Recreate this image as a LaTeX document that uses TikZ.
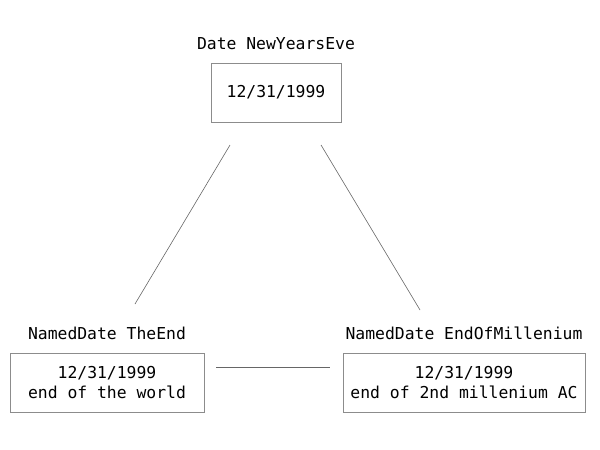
\documentclass[tikz,border=0pt]{standalone}
\usepackage{fontspec}
\setmonofont{DejaVu Sans Mono}
\usepackage{xcolor}
\usepackage{tikz}
\usetikzlibrary{positioning}

\begin{document}
\begin{tikzpicture}[
x=1pt, y=-1pt,
obj/.style={
    rectangle, draw=black!45,
    minimum height=59pt,
    align=center,
    inner sep=0pt,
    font=\ttfamily\fontsize{16.4}{20}\selectfont
},
objname/.style={
    inner sep=0pt,
    font=\ttfamily\fontsize{16.4}{20}\selectfont
},
link/.style={draw=black!60, line width=0.6pt}
]

\useasboundingbox (0,0) rectangle (600,450);

\node[obj, minimum width=130pt] (eve) at (276,92.5) {12/31/1999};
\node[objname] (evename) at (276,44) {Date NewYearsEve};

\node[obj, minimum width=194pt] (theend) at (107,382.5) {12/31/1999\\end of the world};
\node[objname] (theendname) at (107,333) {NamedDate TheEnd};

\node[obj, minimum width=242pt] (millen) at (464,382.5) {12/31/1999\\end of 2nd millenium AC};
\node[objname] (millenname) at (464,333) {NamedDate EndOfMillenium};

% loose ends of the links
\coordinate (a1) at (230,145);
\coordinate (a2) at (135,304);
\coordinate (b1) at (321,145);
\coordinate (b2) at (420,310);
\coordinate (c1) at (216,367);
\coordinate (c2) at (330,367);

\draw[link] (a1) -- (a2);
\draw[link] (b1) -- (b2);
\draw[link] (c1) -- (c2);

\end{tikzpicture}
\end{document}
